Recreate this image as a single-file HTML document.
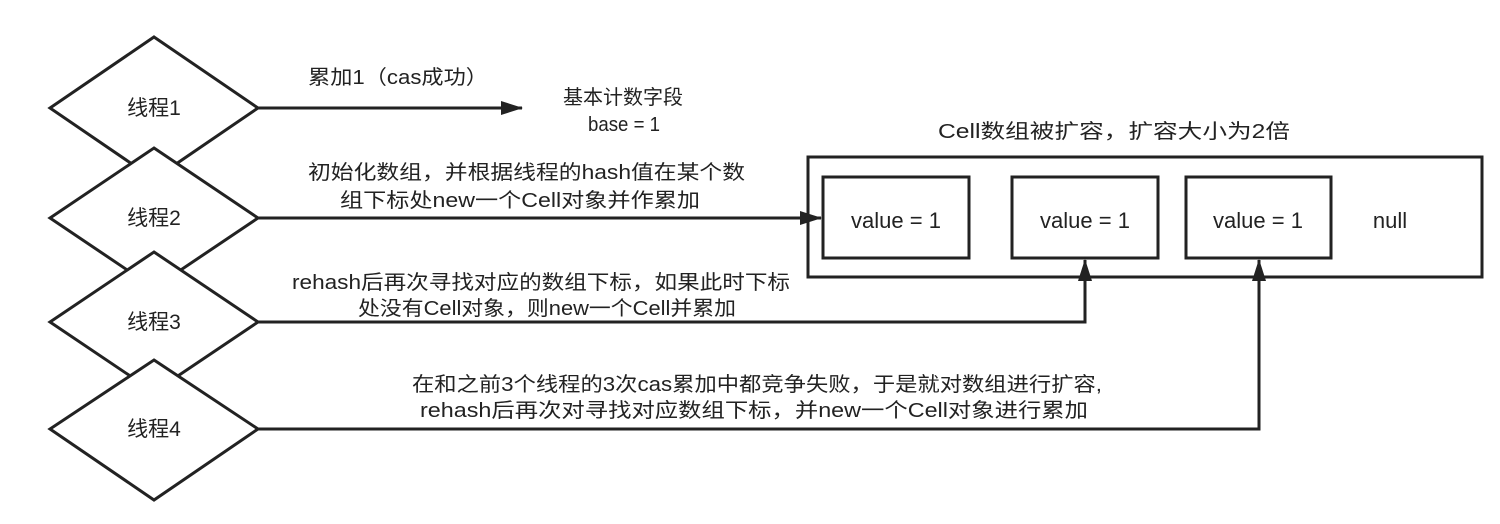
<!DOCTYPE html>
<html><head><meta charset="utf-8"><style>
html,body{margin:0;padding:0;background:#fff;}
svg{display:block;}
text{font-family:"Liberation Sans","Noto Sans CJK SC",sans-serif;font-size:20px;fill:#222;}
</style></head><body>
<svg width="1500" height="524" viewBox="0 0 1500 524" xmlns="http://www.w3.org/2000/svg">
<defs>
<marker id="ah2" markerWidth="22" markerHeight="14" refX="21" refY="7" orient="auto" markerUnits="userSpaceOnUse">
<path d="M0,0 L22,7 L0,14 Z" fill="#222"/>
</marker>
</defs>
<g stroke="#222" stroke-width="3" fill="#fff">
<polygon points="154,37 258,108 154,179 50,108"/>
<polygon points="154,148 258,218 154,288 50,218"/>
<polygon points="154,252 258,322 154,392 50,322"/>
<polygon points="154,360 258,429 154,500 50,429"/>
</g>
<g text-anchor="middle">
<text x="154" y="115" style="font-size:21px">线程1</text>
<text x="154" y="225" style="font-size:21px">线程2</text>
<text x="154" y="329" style="font-size:21px">线程3</text>
<text x="154" y="436" style="font-size:21px">线程4</text>
</g>
<g stroke="#222" stroke-width="3" fill="none">
<rect x="808" y="157" width="674" height="120"/>
<rect x="823" y="177" width="146" height="81"/>
<rect x="1012" y="177" width="146" height="81"/>
<rect x="1186" y="177" width="145" height="81"/>
<line x1="258" y1="108" x2="522" y2="108" marker-end="url(#ah2)"/>
<line x1="258" y1="218" x2="821" y2="218" marker-end="url(#ah2)"/>
<polyline points="258,322 1085,322 1085,260" marker-end="url(#ah2)"/>
<polyline points="258,429 1259,429 1259,260" marker-end="url(#ah2)"/>
</g>
<g text-anchor="middle">
<text x="896" y="228" style="font-size:22px">value = 1</text>
<text x="1085" y="228" style="font-size:22px">value = 1</text>
<text x="1258" y="228" style="font-size:22px">value = 1</text>
<text x="1390" y="228" style="font-size:22px">null</text>
</g>
<text x="308" y="84" textLength="180" lengthAdjust="spacingAndGlyphs">累加1（cas成功）</text>
<g text-anchor="middle">
<text x="623" y="104" textLength="120" lengthAdjust="spacingAndGlyphs">基本计数字段</text>
<text x="624" y="131" textLength="72" lengthAdjust="spacingAndGlyphs">base = 1</text>
<text x="1114" y="138" textLength="352" lengthAdjust="spacingAndGlyphs">Cell数组被扩容，扩容大小为2倍</text>
</g>
<text x="308" y="179" textLength="437" lengthAdjust="spacingAndGlyphs">初始化数组，并根据线程的hash值在某个数</text>
<text x="340" y="207" textLength="360" lengthAdjust="spacingAndGlyphs">组下标处new一个Cell对象并作累加</text>
<text x="292" y="289" textLength="498" lengthAdjust="spacingAndGlyphs">rehash后再次寻找对应的数组下标，如果此时下标</text>
<text x="358" y="315" textLength="378" lengthAdjust="spacingAndGlyphs">处没有Cell对象，则new一个Cell并累加</text>
<text x="412" y="391" textLength="690" lengthAdjust="spacingAndGlyphs">在和之前3个线程的3次cas累加中都竞争失败，于是就对数组进行扩容,</text>
<text x="420" y="417" textLength="668" lengthAdjust="spacingAndGlyphs">rehash后再次对寻找对应数组下标，并new一个Cell对象进行累加</text>
</svg>
</body></html>
